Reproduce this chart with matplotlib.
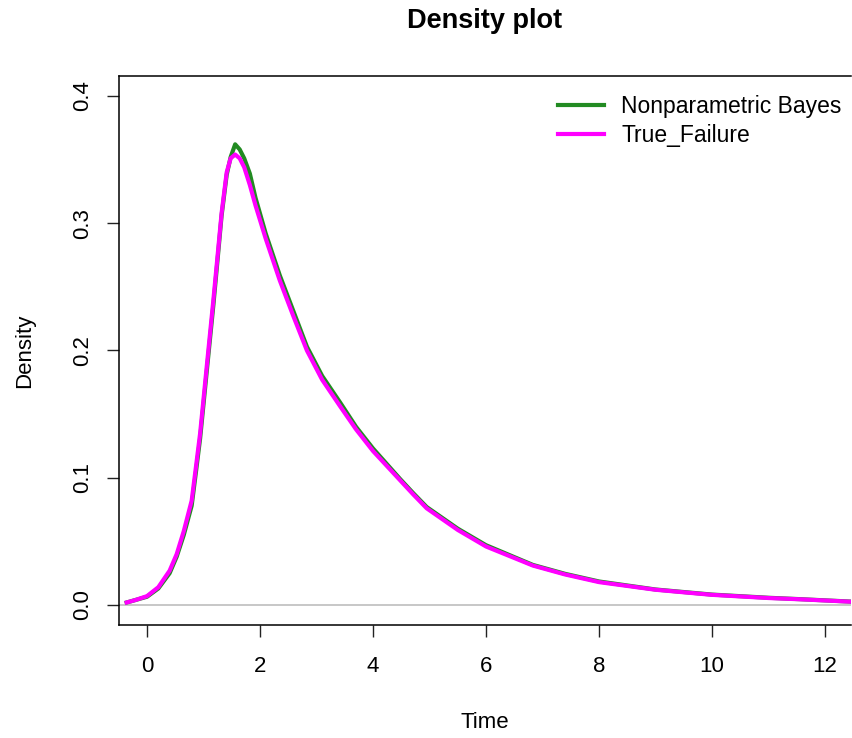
import numpy as np
import matplotlib
matplotlib.use('Agg')
import matplotlib.pyplot as plt

plt.rcParams['font.family'] = ['Liberation Sans', 'DejaVu Sans']

# values
time = [-0.36, -0.2, 0.0, 0.2, 0.4, 0.525, 0.65, 0.79, 0.87, 0.94,
        1.056, 1.175, 1.25, 1.32, 1.41, 1.48, 1.56, 1.64, 1.72, 1.82,
        1.92, 2.1, 2.35, 2.59, 2.83, 3.1, 3.42, 3.7, 4.0, 4.48,
        4.71, 4.95, 5.5, 6.0, 6.83, 7.4, 8.0, 9.0, 10.0, 11.0,
        11.56, 12.5]
true_failure = [0.002, 0.004, 0.007, 0.014, 0.027, 0.040, 0.058, 0.082, 0.110, 0.135,
                0.187, 0.240, 0.275, 0.308, 0.340, 0.351, 0.354, 0.351, 0.344, 0.330,
                0.314, 0.288, 0.255, 0.227, 0.200, 0.177, 0.156, 0.138, 0.121, 0.098,
                0.087, 0.076, 0.059, 0.046, 0.031, 0.024, 0.018, 0.012, 0.008, 0.0055,
                0.0045, 0.0025]
np_bayes = [0.002, 0.004, 0.0065, 0.013, 0.025, 0.038, 0.055, 0.078, 0.106, 0.131,
            0.183, 0.236, 0.272, 0.306, 0.338, 0.352, 0.362, 0.358, 0.351, 0.339,
            0.320, 0.292, 0.259, 0.231, 0.203, 0.180, 0.159, 0.140, 0.123, 0.099,
            0.088, 0.077, 0.060, 0.047, 0.0315, 0.0245, 0.0185, 0.0122, 0.0082, 0.0057,
            0.0046, 0.0026]

x_ticks = [0, 2, 4, 6, 8, 10, 12]
y_ticks = [0.0, 0.1, 0.2, 0.3, 0.4]

W, H = 852, 738
fig = plt.figure(figsize=(W / 100, H / 100), dpi=100)
ax = fig.add_axes([119 / W, 1 - 625 / H, (851 - 119) / W, (625 - 76) / H])

ax.axhline(0, color='#BEBEBE', lw=1.2, zorder=1)
ax.plot(time, np_bayes, color='#228B22', lw=3, label='Nonparametric Bayes', zorder=2)
ax.plot(time, true_failure, color='#FF00FF', lw=3, label='True_Failure', zorder=3)

ax.set_xlim(-0.496, 12.46)
ax.set_ylim(-0.0157, 0.4157)
ax.set_xticks(x_ticks)
ax.set_xticklabels([str(v) for v in x_ticks])
ax.set_yticks(y_ticks)
ax.set_yticklabels([f'{v:.1f}' for v in y_ticks], rotation=90, va='center')

ax.tick_params(axis='both', length=8.5, width=1, labelsize=16, color='#222222')
ax.tick_params(axis='x', pad=14)
ax.tick_params(axis='y', pad=10)
for side in ['left', 'top', 'bottom']:
    ax.spines[side].set_linewidth(1.1)
ax.spines['right'].set_visible(False)

ax.set_xlabel('Time', fontsize=16)
ax.xaxis.set_label_coords(0.5, (625 - 723) / (625 - 76))
ax.xaxis.label.set_va('center')
ax.set_ylabel('Density', fontsize=16)
ax.yaxis.set_label_coords((25 - 119) / (851 - 119), 0.5)
ax.yaxis.label.set_va('center')

fig.text(485 / W, 1 - 21 / H, 'Density plot', fontsize=19.5, fontweight='bold',
         ha='center', va='center')

ax.legend(loc='upper right', frameon=False, fontsize=16.5, handlelength=2.0,
          handletextpad=0.75, labelspacing=0.25,
          bbox_to_anchor=(1.0, 0.982), borderaxespad=0.0)

fig.savefig('out.png', dpi=100)
